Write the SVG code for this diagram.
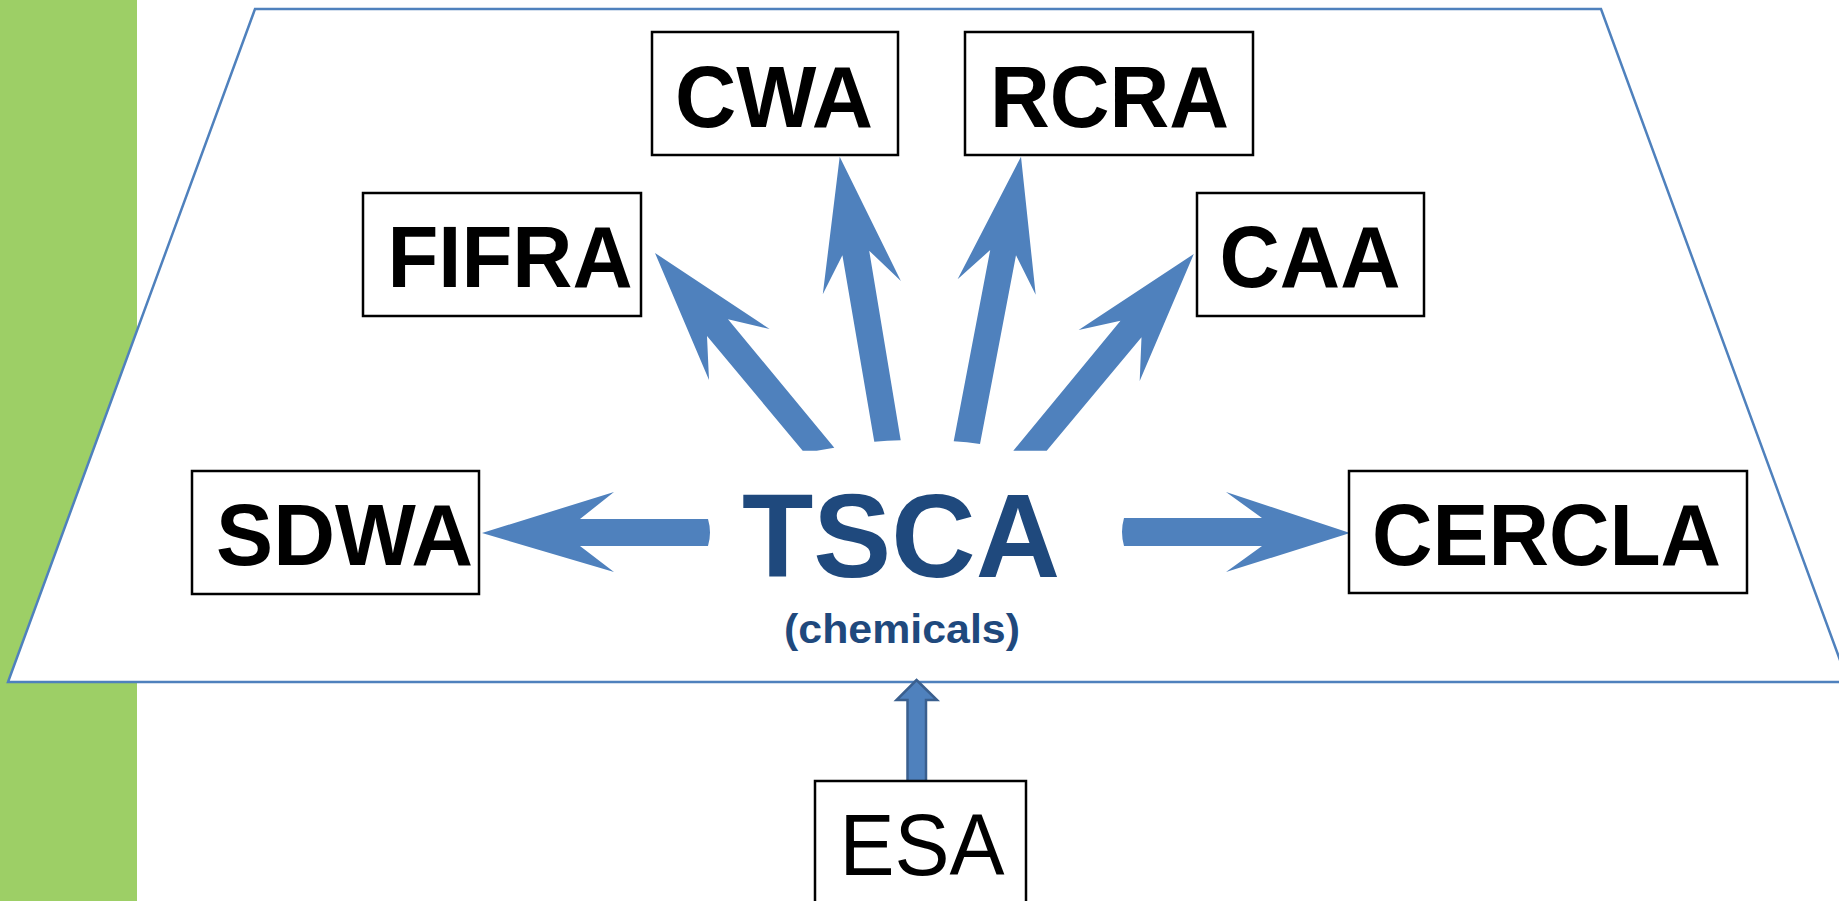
<svg xmlns="http://www.w3.org/2000/svg" width="1839" height="901" viewBox="0 0 1839 901">
<style>
.box{fill:#fff;stroke:#000;stroke-width:2.5}
.lbl{font-family:"Liberation Sans",Arial,sans-serif;font-weight:bold;font-size:87px;fill:#000;text-anchor:middle}
.arr{fill:#4F81BD}
</style>
<rect x="0" y="0" width="1839" height="901" fill="#fff"/>
<rect id="green-bar" x="0" y="0" width="137" height="901" fill="#9DCF66"/>
<polygon id="frame" points="255,9 1601,9 1848,682 8,682" fill="#fff" stroke="#4F81BD" stroke-width="2.5"/>
<g id="connectors">
<path class="arr" d="M482,533 L614,492 L580,519 L708,519 Q712,532.5 708,546 L580,546 L614,572 Z"/>
<path class="arr" d="M1350,533 L1226,492 L1262,518 L1124,518 Q1120,532 1124,546 L1262,546 L1226,572 Z"/>
<path class="arr" d="M655,253 L769.6,329 L728,319.3 L834.3,447.7 L816.7,450.7 L802.7,450.7 L707,336 L709,380 Z"/>
<path class="arr" d="M839.7,156.7 L900.9,281 L869.2,250.7 L900.7,440.3 Q887,440.5 874.3,441.7 L842.4,255.3 L822.8,294.3 Z"/>
<path class="arr" d="M1021,156.7 L1035.7,294.7 L1016,255.3 L980,444 Q967,442 953.7,441.3 L990.2,250 L957.6,279.3 Z"/>
<path class="arr" d="M1193.8,254 L1139.7,381 L1141.5,337.3 L1046.7,450.7 L1013.3,450.7 L1120.5,320.7 L1078.6,330 Z"/>
<path d="M916.5,680 L937,700 L926,700 L926,782 L907.5,782 L907.5,700 L896.5,700 Z" fill="#4F81BD" stroke="#3A5F8E" stroke-width="2.5" stroke-linejoin="miter"/>
</g>
<g id="node-tsca">
<text x="901" y="577" font-family="'Liberation Sans',Arial,sans-serif" font-weight="bold" font-size="118" fill="#1F497D" text-anchor="middle" textLength="318" lengthAdjust="spacingAndGlyphs">TSCA</text>
<text x="902" y="643" font-family="'Liberation Sans',Arial,sans-serif" font-weight="bold" font-size="41" fill="#1F497D" text-anchor="middle" textLength="236" lengthAdjust="spacingAndGlyphs">(chemicals)</text>
</g>
<g id="node-cwa">
<rect class="box" x="652" y="32" width="246" height="123"/>
<text class="lbl" x="774" y="127" textLength="198" lengthAdjust="spacingAndGlyphs">CWA</text>
</g>
<g id="node-rcra">
<rect class="box" x="965" y="32" width="288" height="123"/>
<text class="lbl" x="1109.5" y="127" textLength="239" lengthAdjust="spacingAndGlyphs">RCRA</text>
</g>
<g id="node-fifra">
<rect class="box" x="363" y="193" width="278" height="123"/>
<text class="lbl" x="510" y="287" textLength="245" lengthAdjust="spacingAndGlyphs">FIFRA</text>
</g>
<g id="node-caa">
<rect class="box" x="1197" y="193" width="227" height="123"/>
<text class="lbl" x="1310" y="287" textLength="181" lengthAdjust="spacingAndGlyphs">CAA</text>
</g>
<g id="node-sdwa">
<rect class="box" x="192" y="471" width="287" height="123"/>
<text class="lbl" x="344.5" y="565" textLength="257" lengthAdjust="spacingAndGlyphs">SDWA</text>
</g>
<g id="node-cercla">
<rect class="box" x="1349" y="471" width="398" height="122"/>
<text class="lbl" x="1546.6" y="565" textLength="349" lengthAdjust="spacingAndGlyphs">CERCLA</text>
</g>
<g id="node-esa">
<rect class="box" x="815" y="781" width="211" height="140"/>
<text x="922" y="875" font-family="'Liberation Sans',Arial,sans-serif" font-size="87" fill="#000" text-anchor="middle" textLength="165" lengthAdjust="spacingAndGlyphs">ESA</text>
</g>
</svg>
